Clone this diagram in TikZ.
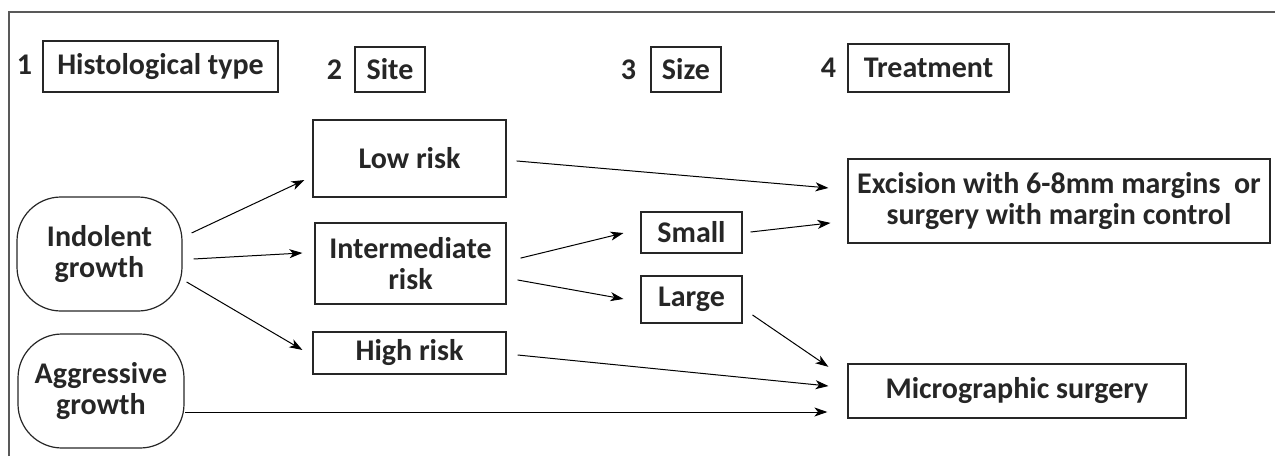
\documentclass[tikz,border=0pt]{standalone}
\usepackage{fontspec}
\setmainfont{Carlito}
\usetikzlibrary{arrows.meta}

\tikzset{
  box/.style={draw=black!85, line width=0.6pt, inner sep=0pt, align=center,
    font=\fontsize{15}{15.5}\selectfont\bfseries, text=black!85},
  roundbox/.style={box, rounded corners=22pt},
  num/.style={inner sep=0pt, font=\fontsize{15}{15.5}\selectfont\bfseries, text=black!85},
  arr/.style={-{Stealth[length=6.5pt,width=4.5pt,inset=1.8pt]}, line width=0.5pt},
}

\begin{document}
\begin{tikzpicture}[x=0.5pt,y=-0.5pt]
  \useasboundingbox (0,0) rectangle (1275,456);
  % frame
  \draw[black!65, line width=0.85pt] (9,456) -- (9,12) -- (1275,12);

  % headings
  \node[box, minimum width=117.5pt, minimum height=25.5pt] (hist) at (160.5,66.5) {Histological type};
  \node[box, minimum width=35pt, minimum height=22.5pt] (site) at (390,69.5) {Site};
  \node[box, minimum width=35pt, minimum height=22.5pt] (size) at (686,69.5) {Size};
  \node[box, minimum width=80.5pt, minimum height=24pt] (treat) at (928.5,68) {Treatment};
  \node[num, anchor=base east, xshift=-5pt] (n1) at (hist.base west) {1};
  \node[num, anchor=base east, xshift=-6pt] (n2) at (site.base west) {2};
  \node[num, anchor=base east, xshift=-7pt] (n3) at (size.base west) {3};
  \node[num, anchor=base east, xshift=-5.5pt] (n4) at (treat.base west) {4};

  % growth
  \node[roundbox, minimum width=82.5pt, minimum height=57pt] (indol) at (99.5,254) {Indolent\\growth};
  \node[roundbox, minimum width=83pt, minimum height=57pt] (aggr) at (101,391) {Aggressive\\growth};

  % site
  \node[box, minimum width=96.5pt, minimum height=38.5pt] (low) at (409.5,158.5) {Low risk};
  \node[box, minimum width=95.5pt, minimum height=40.5pt] (inter) at (410.5,263.5) {Intermediate\\risk};
  \node[box, minimum width=96.5pt, minimum height=21pt] (high) at (409.5,353) {High risk};

  % size
  \node[box, minimum width=50.5pt, minimum height=20.5pt] (small) at (691.5,232.5) {Small};
  \node[box, minimum width=50.5pt, minimum height=23.5pt] (large) at (691.5,299.5) {Large};

  % treatment
  \node[box, minimum width=211pt, minimum height=42pt] (excis) at (1059,201) {Excision with 6-8mm margins~ or\\surgery with margin control};
  \node[box, minimum width=169pt, minimum height=27pt] (micro) at (1017,391) {Micrographic surgery};

  % arrows
  \draw[arr, shorten <=5pt, shorten >=4.4pt] ([yshift=8.4pt]indol.east) -- ([yshift=-8.9pt]low.west);
  \draw[arr, shorten <=5.5pt, shorten >=6pt] ([yshift=-2.8pt]indol.east) -- ([yshift=5.6pt]inter.west);
  \draw[arr, shorten <=2.3pt, shorten >=5.8pt] ([yshift=-12.8pt]indol.east) -- ([yshift=-1.4pt]high.west);
  \draw[arr, shorten <=5pt, shorten >=9.5pt] ([yshift=-0.8pt]low.east) -- ([yshift=5.7pt]excis.west);
  \draw[arr, shorten <=7.2pt, shorten >=8.7pt] ([yshift=1pt]inter.east) -- ([yshift=1.8pt]small.west);
  \draw[arr, shorten <=5.6pt, shorten >=8.6pt] ([yshift=-7.25pt]inter.east) -- ([yshift=-1.25pt]large.west);
  \draw[arr, shorten <=4pt, shorten >=8.5pt] ([yshift=-0.2pt]small.east) -- ([yshift=-10pt]excis.west);
  \draw[arr, shorten <=6pt, shorten >=11.5pt] ([yshift=-4.35pt]large.east) -- ([yshift=5.6pt]micro.west);
  \draw[arr, shorten <=5.5pt, shorten >=9.5pt] ([yshift=-0.45pt]high.east) -- ([yshift=1.55pt]micro.west);
  \draw[arr, shorten <=0.3pt, shorten >=10pt] ([yshift=-10.5pt]aggr.east) -- ([yshift=-10.5pt]micro.west);
\end{tikzpicture}
\end{document}
